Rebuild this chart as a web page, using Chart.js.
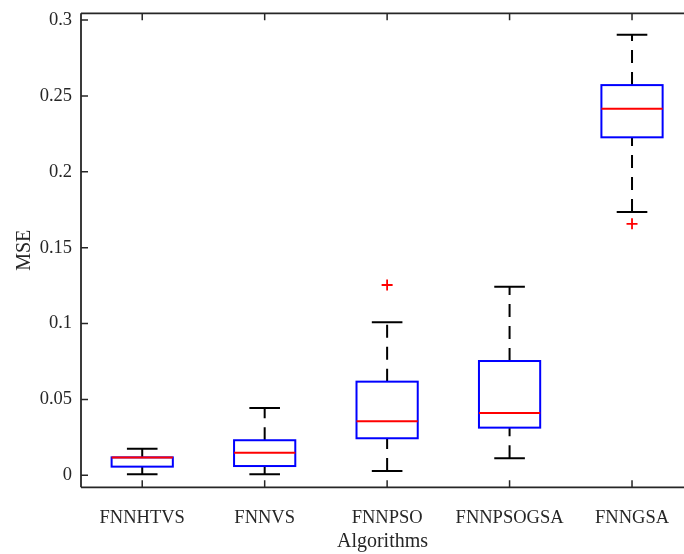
<!DOCTYPE html>
<html><head><meta charset="utf-8">
<script src="https://cdn.jsdelivr.net/npm/chart.js@4"></script>
<style>html,body{margin:0;padding:0;background:#fff;}canvas{display:block;}</style>
</head><body>
<canvas id="c" width="684" height="554"></canvas>
<script>
const categories = ['FNNHTVS', 'FNNVS', 'FNNPSO', 'FNNPSOGSA', 'FNNGSA'];
const lowerWhisker = [0.0007, 0.0007, 0.0028, 0.0112, 0.1735];
const q1 = [0.0057, 0.0061, 0.0244, 0.0314, 0.2227];
const medians = [0.0118, 0.0149, 0.0356, 0.0410, 0.2415];
const q3 = [0.0118, 0.0231, 0.0617, 0.0753, 0.2571];
const upperWhisker = [0.0175, 0.0443, 0.1008, 0.1242, 0.2903];
const outliers = [[], [], [0.1254], [], [0.1657]];
const yTicks = [0, 0.05, 0.1, 0.15, 0.2, 0.25, 0.3];
const yTickLabels = ['0', '0.05', '0.1', '0.15', '0.2', '0.25', '0.3'];

const outlierPoints = outliers.flatMap((arr, i) => arr.map(v => ({x: i + 1, y: v})));
const AXIS = '#262626';
const FONT = 'Liberation Serif';

const boxPlugin = {
  id: 'boxplot',
  beforeDatasetsDraw(chart) {
    const {ctx, scales: {x, y}} = chart;
    ctx.save();
    categories.forEach((c, i) => {
      const xc = x.getPixelForValue(i + 1);
      const halfBox = x.getPixelForValue(i + 1.25) - xc;
      const halfCap = x.getPixelForValue(i + 1.125) - xc;
      const yLo = y.getPixelForValue(lowerWhisker[i]);
      const yQ1 = y.getPixelForValue(q1[i]);
      const yMed = y.getPixelForValue(medians[i]);
      const yQ3 = y.getPixelForValue(q3[i]);
      const yHi = y.getPixelForValue(upperWhisker[i]);
      ctx.strokeStyle = '#000000';
      ctx.lineWidth = 2;
      ctx.setLineDash([13, 9]);
      ctx.beginPath(); ctx.moveTo(xc, yLo); ctx.lineTo(xc, yQ1); ctx.stroke();
      ctx.beginPath(); ctx.moveTo(xc, yQ3); ctx.lineTo(xc, yHi); ctx.stroke();
      ctx.setLineDash([]);
      ctx.beginPath();
      ctx.moveTo(xc - halfCap, yLo); ctx.lineTo(xc + halfCap, yLo);
      ctx.moveTo(xc - halfCap, yHi); ctx.lineTo(xc + halfCap, yHi);
      ctx.stroke();
      ctx.strokeStyle = '#0000ff';
      ctx.lineWidth = 2;
      ctx.strokeRect(xc - halfBox, yQ3, 2 * halfBox, yQ1 - yQ3);
      ctx.strokeStyle = '#ff0000';
      ctx.beginPath(); ctx.moveTo(xc - halfBox, yMed); ctx.lineTo(xc + halfBox, yMed); ctx.stroke();
    });
    ctx.restore();
  },
  afterDraw(chart) {
    const {ctx, chartArea: a, scales: {x, y}} = chart;
    const right = x.getPixelForValue(5.5);
    ctx.save();
    ctx.strokeStyle = AXIS;
    ctx.lineWidth = 1.8;
    ctx.beginPath();
    ctx.moveTo(a.left, a.top); ctx.lineTo(a.left, a.bottom);
    ctx.moveTo(a.left, a.bottom); ctx.lineTo(right, a.bottom);
    ctx.moveTo(a.left, a.top); ctx.lineTo(right, a.top);
    ctx.moveTo(right, a.top); ctx.lineTo(right, a.bottom);
    ctx.stroke();
    ctx.lineWidth = 1.5;
    ctx.beginPath();
    yTicks.forEach(v => {
      const py = y.getPixelForValue(v);
      ctx.moveTo(a.left, py); ctx.lineTo(a.left + 7, py);
      ctx.moveTo(right, py); ctx.lineTo(right - 7, py);
    });
    categories.forEach((c, i) => {
      const px = x.getPixelForValue(i + 1);
      ctx.moveTo(px, a.bottom); ctx.lineTo(px, a.bottom - 7);
      ctx.moveTo(px, a.top); ctx.lineTo(px, a.top + 7);
    });
    ctx.stroke();
    ctx.restore();
  }
};

new Chart(document.getElementById('c'), {
  type: 'scatter',
  data: {
    datasets: [{
      label: 'Outliers',
      data: outlierPoints,
      pointStyle: 'cross',
      radius: 5.5,
      borderColor: '#ff0000',
      backgroundColor: '#ff0000',
      borderWidth: 1.8
    }]
  },
  options: {
    responsive: false,
    animation: false,
    devicePixelRatio: 1,
    layout: {autoPadding: false, padding: {top: 13.3, left: 0, right: 0, bottom: 0}},
    plugins: {legend: {display: false}, tooltip: {enabled: false}},
    scales: {
      x: {
        type: 'linear', min: 0.5, max: 5.4245,
        grid: {display: false, drawTicks: false},
        border: {display: false},
        afterBuildTicks: s => { s.ticks = categories.map((_, i) => ({value: i + 1})); },
        afterFit: s => { s.height = 66.7; s.paddingLeft = 0; s.paddingRight = 0; },
        ticks: {
          autoSkip: false, maxRotation: 0, minRotation: 0, padding: 19.5, color: AXIS,
          font: {family: FONT, size: 18.5},
          callback: v => categories[Math.round(v) - 1]
        },
        title: {display: true, text: 'Algorithms', color: AXIS, font: {family: FONT, size: 20}, padding: {top: 0, bottom: 0}}
      },
      y: {
        type: 'linear', min: -0.00791, max: 0.30441,
        grid: {display: false, drawTicks: false},
        border: {display: false},
        afterBuildTicks: s => { s.ticks = yTicks.map(v => ({value: v})); },
        afterFit: s => { s.width = 81; s.paddingTop = 0; s.paddingBottom = 0; },
        ticks: {
          padding: 9, color: AXIS, font: {family: FONT, size: 18.5},
          callback: (v, i) => yTickLabels[i]
        },
        title: {display: true, text: 'MSE', color: AXIS, font: {family: FONT, size: 20}, padding: {top: 12.5, bottom: 0}}
      }
    }
  },
  plugins: [boxPlugin]
});
</script>
</body></html>
